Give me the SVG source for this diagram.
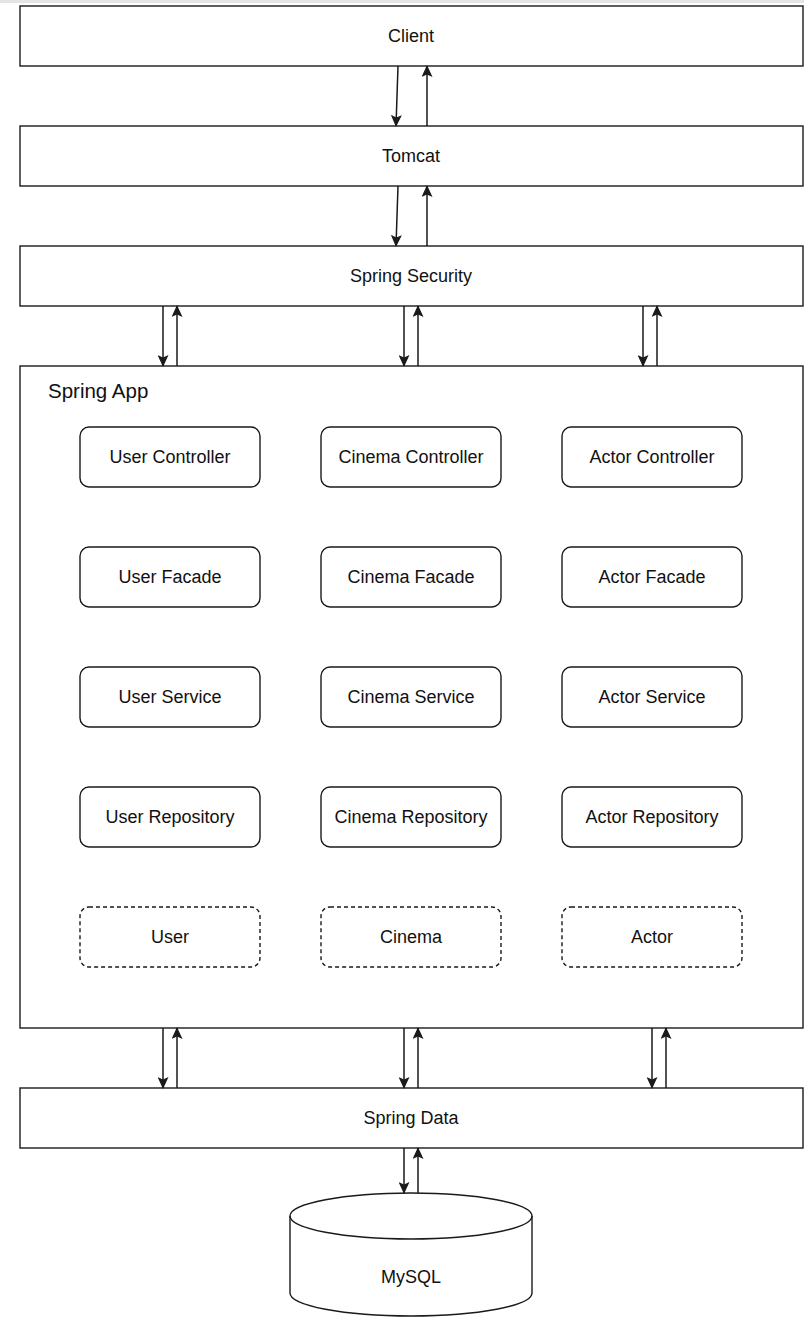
<svg xmlns="http://www.w3.org/2000/svg" width="804" height="1332" viewBox="0 0 804 1332">
<style>
.box{fill:#fff;stroke:#1a1a1a;stroke-width:1.4}
.node{fill:#fff;stroke:#1a1a1a;stroke-width:1.4}
.dash{fill:#fff;stroke:#1a1a1a;stroke-width:1.4;stroke-dasharray:4 3}
.t{font-family:"Liberation Sans",Arial,sans-serif;font-size:18px;fill:#111;text-anchor:middle;dominant-baseline:central}
.c{stroke:#1a1a1a;stroke-width:1.5;fill:none;marker-end:url(#ah)}
</style>
<defs>
<marker id="ah" viewBox="0 0 12 11" refX="11" refY="5.5" markerWidth="12" markerHeight="11" markerUnits="userSpaceOnUse" orient="auto">
<path d="M0,0 L12,5.5 L0,11 L2.5,5.5 z" fill="#1a1a1a"/>
</marker>
</defs>
<rect width="804" height="1332" fill="#fff"/>
<rect x="0" y="0" width="804" height="3" fill="#e4e4e4"/>
<g id="client"><rect class="box" x="20" y="6" width="783" height="60"/><text class="t" x="411" y="36">Client</text></g>
<g id="tomcat"><rect class="box" x="20" y="126" width="783" height="60"/><text class="t" x="411" y="156">Tomcat</text></g>
<g id="spring-security"><rect class="box" x="20" y="246" width="783" height="60"/><text class="t" x="411" y="276">Spring Security</text></g>
<g id="spring-app"><rect class="box" x="20" y="366" width="783" height="662"/><text x="48" y="390" style="font-family:'Liberation Sans',Arial,sans-serif;font-size:20.5px;fill:#111;dominant-baseline:central">Spring App</text></g>
<g id="user-controller"><rect class="node" x="80" y="427" width="180" height="60" rx="9"/><text class="t" x="170" y="457">User Controller</text></g>
<g id="cinema-controller"><rect class="node" x="321" y="427" width="180" height="60" rx="9"/><text class="t" x="411" y="457">Cinema Controller</text></g>
<g id="actor-controller"><rect class="node" x="562" y="427" width="180" height="60" rx="9"/><text class="t" x="652" y="457">Actor Controller</text></g>
<g id="user-facade"><rect class="node" x="80" y="547" width="180" height="60" rx="9"/><text class="t" x="170" y="577">User Facade</text></g>
<g id="cinema-facade"><rect class="node" x="321" y="547" width="180" height="60" rx="9"/><text class="t" x="411" y="577">Cinema Facade</text></g>
<g id="actor-facade"><rect class="node" x="562" y="547" width="180" height="60" rx="9"/><text class="t" x="652" y="577">Actor Facade</text></g>
<g id="user-service"><rect class="node" x="80" y="667" width="180" height="60" rx="9"/><text class="t" x="170" y="697">User Service</text></g>
<g id="cinema-service"><rect class="node" x="321" y="667" width="180" height="60" rx="9"/><text class="t" x="411" y="697">Cinema Service</text></g>
<g id="actor-service"><rect class="node" x="562" y="667" width="180" height="60" rx="9"/><text class="t" x="652" y="697">Actor Service</text></g>
<g id="user-repository"><rect class="node" x="80" y="787" width="180" height="60" rx="9"/><text class="t" x="170" y="817">User Repository</text></g>
<g id="cinema-repository"><rect class="node" x="321" y="787" width="180" height="60" rx="9"/><text class="t" x="411" y="817">Cinema Repository</text></g>
<g id="actor-repository"><rect class="node" x="562" y="787" width="180" height="60" rx="9"/><text class="t" x="652" y="817">Actor Repository</text></g>
<g id="user"><rect class="dash" x="80" y="907" width="180" height="60" rx="9"/><text class="t" x="170" y="937">User</text></g>
<g id="cinema"><rect class="dash" x="321" y="907" width="180" height="60" rx="9"/><text class="t" x="411" y="937">Cinema</text></g>
<g id="actor"><rect class="dash" x="562" y="907" width="180" height="60" rx="9"/><text class="t" x="652" y="937">Actor</text></g>
<g id="spring-data"><rect class="box" x="20" y="1088" width="783" height="60"/><text class="t" x="411" y="1118">Spring Data</text></g>
<g id="mysql">
<path class="node" d="M290,1216 A121,23 0 0 1 532,1216 L532,1293 A121,23 0 0 1 290,1293 Z"/>
<path d="M290,1216 A121,23 0 0 0 532,1216" fill="none" stroke="#1a1a1a" stroke-width="1.4"/>
<text class="t" x="411" y="1277">MySQL</text>
</g>
<g id="connectors">
<path class="c" d="M398,66 L396,126"/>
<path class="c" d="M427,126 L427,66"/>
<path class="c" d="M398,186 L396,246"/>
<path class="c" d="M427,246 L427,186"/>
<path class="c" d="M163,306 L163,366"/>
<path class="c" d="M177,366 L177,306"/>
<path class="c" d="M404,306 L404,366"/>
<path class="c" d="M418,366 L418,306"/>
<path class="c" d="M643,306 L643,366"/>
<path class="c" d="M657,366 L657,306"/>
<path class="c" d="M163,1028 L163,1088"/>
<path class="c" d="M177,1088 L177,1028"/>
<path class="c" d="M404,1028 L404,1088"/>
<path class="c" d="M418,1088 L418,1028"/>
<path class="c" d="M652,1028 L652,1088"/>
<path class="c" d="M666,1088 L666,1028"/>
<path class="c" d="M404,1148 L404,1193"/>
<path class="c" d="M418,1193 L418,1148"/>
</g>
</svg>
